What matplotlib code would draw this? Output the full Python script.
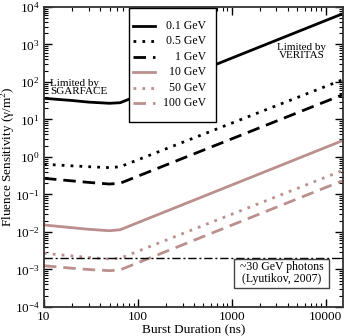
import matplotlib
matplotlib.use("Agg")
import matplotlib.pyplot as plt
from matplotlib.patches import Rectangle
from matplotlib.ticker import LogLocator, FixedLocator, FixedFormatter, NullFormatter

plt.rcParams['font.family'] = ['Liberation Serif', 'DejaVu Serif']
plt.rcParams['mathtext.fontset'] = 'stix'

# ---- data ----
durations = [10, 20, 30, 50, 65, 15000]
labels = ["0.1 GeV", "0.5 GeV", "1 GeV", "10 GeV", "50 GeV", "100 GeV"]
sens_0p1 = [36.7, 32.0, 29.0, 27.0, 28.0, 6500.0]
sens_0p5 = [0.64, 0.58, 0.55, 0.52, 0.55, 113.0]
sens_1 = [0.27, 0.23, 0.21, 0.19, 0.20, 45.0]
sens_10 = [0.0154, 0.013, 0.0118, 0.0108, 0.0115, 2.7]
sens_50 = [0.0027, 0.0023, 0.0021, 0.0019, 0.0020, 0.43]
sens_100 = [0.00126, 0.00108, 0.0010, 0.00093, 0.00098, 0.23]
lyutikov_level = 2e-3
xticks = [10, 100, 1000, 10000]
xticklabels = ["10", "100", "1000", "10000"]

black = "black"
pink = "#bc8f8f"
styles = [
    (sens_0p1, black, "-"),
    (sens_0p5, black, (0, (1, 2.2))),
    (sens_1, black, (0, (4.5, 2.5))),
    (sens_10, pink, "-"),
    (sens_50, pink, (0, (1, 2.2))),
    (sens_100, pink, (0, (4.5, 2.5))),
]

fig = plt.figure(figsize=(3.46, 3.36), dpi=100)
ax = fig.add_axes([0.127, 0.0863, 0.864, 0.893])
ax.set_xscale("log")
ax.set_yscale("log")
ax.set_xlim(10, 15300)
ax.set_ylim(1e-4, 1e4)

for vals, col, ls in styles:
    ax.plot(durations, vals, color=col, ls=ls, lw=2.0, solid_capstyle="butt",
            dash_capstyle="butt")

ax.axhline(lyutikov_level, color="black", lw=1.0, ls=(0, (6, 2, 1.5, 2)))

# ticks
ax.xaxis.set_major_locator(FixedLocator(xticks))
ax.xaxis.set_major_formatter(FixedFormatter(xticklabels))
ax.xaxis.set_minor_locator(LogLocator(base=10, subs=range(2, 10), numticks=20))
ax.xaxis.set_minor_formatter(NullFormatter())
ax.yaxis.set_major_locator(LogLocator(base=10, numticks=20))
ax.yaxis.set_minor_locator(LogLocator(base=10, subs=range(2, 10), numticks=20))
ax.yaxis.set_minor_formatter(NullFormatter())
ax.tick_params(which="both", direction="in", top=True, right=True, labelsize=9.5, pad=3)
ax.tick_params(which="major", length=6, width=1)
ax.tick_params(which="minor", length=3, width=0.8, labelbottom=False, labelleft=False)
for s in ax.spines.values():
    s.set_linewidth(1.3)
    s.set_color("#333333")

ax.set_xlabel("Burst Duration (ns)", fontsize=9.5, labelpad=1)
ax.set_ylabel("Fluence Sensitivity (\u03b3/m$^2$)", fontsize=9.5)
ax.yaxis.set_label_coords(-0.09, 0.5)

# manual legend with right-aligned labels
leg_x0, leg_x1 = (129 - 44) / 299, (216 - 44) / 299
leg_y0, leg_y1 = (307 - 122) / 300, (307 - 8) / 300
ax.add_patch(Rectangle((leg_x0, leg_y0), leg_x1 - leg_x0, leg_y1 - leg_y0,
                       transform=ax.transAxes, facecolor="white",
                       edgecolor="black", lw=1.0, zorder=5))
row_y = [26, 41.5, 57, 72.5, 88, 103.5]
for (vals, col, ls), lab, py in zip(styles, labels, row_y):
    yy = (307 - py) / 300
    ax.plot([(133 - 44) / 299, (155 - 44) / 299], [yy, yy], transform=ax.transAxes,
            color=col, ls=ls, lw=2.0, zorder=6)
    ax.text((206 - 44) / 299, yy, lab, transform=ax.transAxes, ha="right",
            va="center", fontsize=8.5, zorder=6)

ax.text((50 - 44) / 299, (307 - 87.5) / 300, "Limited by\nSGARFACE",
        transform=ax.transAxes, ha="left", va="center", fontsize=8,
        linespacing=0.95)
ax.text((302 - 44) / 299, (307 - 51.5) / 300, "Limited by\nVERITAS",
        transform=ax.transAxes, ha="center", va="center", fontsize=8,
        linespacing=0.95)

bx0, bx1 = (234 - 44) / 299, (329 - 44) / 299
by0, by1 = (307 - 288) / 300, (307 - 259) / 300
ax.add_patch(Rectangle((bx0, by0), bx1 - bx0, by1 - by0, transform=ax.transAxes,
                       facecolor="white", edgecolor="#444444", lw=1.0, zorder=5))
ax.text((bx0 + bx1) / 2, (by0 + by1) / 2, "~30 GeV photons\n(Lyutikov, 2007)",
        transform=ax.transAxes, ha="center", va="center", fontsize=8.5,
        linespacing=1.0, zorder=6)

fig.savefig("out.png", dpi=100)
